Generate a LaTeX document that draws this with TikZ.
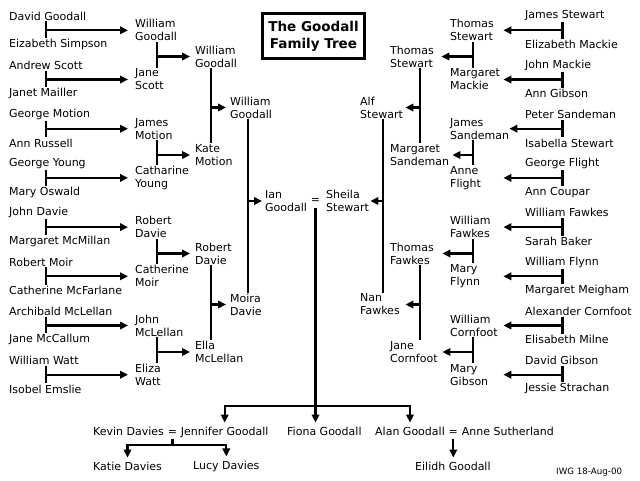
\documentclass[tikz,border=0pt]{standalone}
\usepackage{fontspec}
\setmainfont{DejaVu Sans}
\usetikzlibrary{arrows.meta,positioning}
\tikzset{
    person/.style={
        align=left,
        inner xsep=0pt,
        inner ysep=1pt,
        font=\fontsize{11}{13}\selectfont
    },
    lperson/.style={
        person,
        anchor=west,
        inner xsep=#1
    },
    lperson/.default=5pt,
    rperson/.style={
        person,
        anchor=west,
        text width=#1
    },
    kid/.style={
        inner xsep=0pt,
        inner ysep=4pt,
        font=\fontsize{11}{13}\selectfont
    },
    titleBox/.style={
        draw,
        line width=3pt,
        align=center,
        minimum width=102pt,
        minimum height=45pt,
        font=\fontsize{13.5}{17}\selectfont\bfseries
    },
    famLine/.style={
        line width=2.1pt
    },
    famArrow/.style={
        -{Triangle[length=8pt,width=7.5pt]},
        line width=2.1pt
    }
}
\begin{document}
\begin{tikzpicture}[x=1pt,y=-1pt]
        \fill[white] (0,0) rectangle (640,480);
        \useasboundingbox (0,0) rectangle (640,480);

        \node[titleBox] (title) at (313.5,36) {The Goodall\\Family Tree};

        % Goodall side
        \node[lperson=0pt] (dgoodall) at (9,16) {David Goodall};
        \node[lperson=0pt] (esimpson) at (9,44.5) {Eizabeth Simpson};
        \node[lperson=0pt] (ascott) at (9,65.2) {Andrew Scott};
        \node[lperson=0pt] (jmailler) at (9,93.7) {Janet Mailler};
        \node[lperson=0pt] (gmotion) at (9,114.4) {George Motion};
        \node[lperson=0pt] (arussell) at (9,142.9) {Ann Russell};
        \node[lperson=0pt] (gyoung) at (9,163.6) {George Young};
        \node[lperson=0pt] (moswald) at (9,192.1) {Mary Oswald};
        \node[lperson=0pt] (jdavie) at (9,212.8) {John Davie};
        \node[lperson=0pt] (mmcmillan) at (9,241.3) {Margaret McMillan};
        \node[lperson=0pt] (rmoir) at (9,262) {Robert Moir};
        \node[lperson=0pt] (cmcfarlane) at (9,290.5) {Catherine McFarlane};
        \node[lperson=0pt] (amclellan) at (9,311.2) {Archibald McLellan};
        \node[lperson=0pt] (jmccallum) at (9,339.7) {Jane McCallum};
        \node[lperson=0pt] (wwatt) at (9,360.4) {William Watt};
        \node[lperson=0pt] (iemslie) at (9,388.9) {Isobel Emslie};

        \node[lperson=7pt] (wgoodalla) at (128,30.3) {William\\Goodall};
        \node[lperson=7pt] (jscott) at (128,79.5) {Jane\\Scott};
        \node[lperson=7pt] (jmotion) at (128,128.7) {James\\Motion};
        \node[lperson=7pt] (cyoung) at (128,177.9) {Catharine\\Young};
        \node[lperson=7pt] (rdaviea) at (128,227.1) {Robert\\Davie};
        \node[lperson=7pt] (cmoir) at (128,276.3) {Catherine\\Moir};
        \node[lperson=7pt] (jmclellan) at (128,325.5) {John\\McLellan};
        \node[lperson=7pt] (ewatt) at (128,374.7) {Eliza\\Watt};

        \node[lperson=5pt] (wgoodallb) at (190,56.5) {William\\Goodall};
        \node[lperson=5pt] (kmotion) at (190,155) {Kate\\Motion};
        \node[lperson=5pt] (rdavieb) at (190,253.5) {Robert\\Davie};
        \node[lperson=5pt] (emclellan) at (190,352) {Ella\\McLellan};

        \node[lperson=4pt] (wgoodallc) at (226,107.5) {William\\Goodall};
        \node[lperson=4pt] (mdavie) at (226,304.5) {Moira\\Davie};

        \node[lperson=3pt] (igoodall) at (262,201) {Ian\\Goodall};

        \coordinate (jnwgoodalla) at (46,30.3);
        \coordinate (jnjscott) at (46,79.5);
        \coordinate (jnjmotion) at (46,128.7);
        \coordinate (jncyoung) at (46,177.9);
        \coordinate (jnrdaviea) at (46,227.1);
        \coordinate (jncmoir) at (46,276.3);
        \coordinate (jnjmclellan) at (46,325.5);
        \coordinate (jnewatt) at (46,374.7);
        \coordinate (jnwgoodallb) at (157,56.5);
        \coordinate (jnkmotion) at (157,155);
        \coordinate (jnrdavieb) at (157,253.5);
        \coordinate (jnemclellan) at (157,352);
        \coordinate (jnwgoodallc) at (211,107.5);
        \coordinate (jnmdavie) at (211,304.5);
        \coordinate (jnigoodall) at (248,201);

        \draw[famLine] (dgoodall.south -| jnwgoodalla) -- (esimpson.north -| jnwgoodalla);
        \draw[famArrow] (jnwgoodalla) -- (wgoodalla.west);
        \draw[famLine] (ascott.south -| jnjscott) -- (jmailler.north -| jnjscott);
        \draw[famArrow] (jnjscott) -- (jscott.west);
        \draw[famLine] (gmotion.south -| jnjmotion) -- (arussell.north -| jnjmotion);
        \draw[famArrow] (jnjmotion) -- (jmotion.west);
        \draw[famLine] (gyoung.south -| jncyoung) -- (moswald.north -| jncyoung);
        \draw[famArrow] (jncyoung) -- (cyoung.west);
        \draw[famLine] (jdavie.south -| jnrdaviea) -- (mmcmillan.north -| jnrdaviea);
        \draw[famArrow] (jnrdaviea) -- (rdaviea.west);
        \draw[famLine] (rmoir.south -| jncmoir) -- (cmcfarlane.north -| jncmoir);
        \draw[famArrow] (jncmoir) -- (cmoir.west);
        \draw[famLine] (amclellan.south -| jnjmclellan) -- (jmccallum.north -| jnjmclellan);
        \draw[famArrow] (jnjmclellan) -- (jmclellan.west);
        \draw[famLine] (wwatt.south -| jnewatt) -- (iemslie.north -| jnewatt);
        \draw[famArrow] (jnewatt) -- (ewatt.west);

        \draw[famLine] (wgoodalla.south -| jnwgoodallb) -- (jscott.north -| jnwgoodallb);
        \draw[famArrow] (jnwgoodallb) -- (wgoodallb.west);
        \draw[famLine] (jmotion.south -| jnkmotion) -- (cyoung.north -| jnkmotion);
        \draw[famArrow] (jnkmotion) -- (kmotion.west);
        \draw[famLine] (rdaviea.south -| jnrdavieb) -- (cmoir.north -| jnrdavieb);
        \draw[famArrow] (jnrdavieb) -- (rdavieb.west);
        \draw[famLine] (jmclellan.south -| jnemclellan) -- (ewatt.north -| jnemclellan);
        \draw[famArrow] (jnemclellan) -- (emclellan.west);

        \draw[famLine] (wgoodallb.south -| jnwgoodallc) -- (kmotion.north -| jnwgoodallc);
        \draw[famArrow] (jnwgoodallc) -- (wgoodallc.west);
        \draw[famLine] (rdavieb.south -| jnmdavie) -- (emclellan.north -| jnmdavie);
        \draw[famArrow] (jnmdavie) -- (mdavie.west);

        \draw[famLine] (wgoodallc.south -| jnigoodall) -- (mdavie.north -| jnigoodall);
        \draw[famArrow] (jnigoodall) -- (igoodall.west);

        % Stewart side
        \node[lperson=0pt] (jstewart) at (525,16) {James Stewart};
        \node[lperson=0pt] (emackie) at (525,44.5) {Elizabeth Mackie};
        \node[lperson=0pt] (jmackie) at (525,65.2) {John Mackie};
        \node[lperson=0pt] (agibson) at (525,93.7) {Ann Gibson};
        \node[lperson=0pt] (psandeman) at (525,114.4) {Peter Sandeman};
        \node[lperson=0pt] (istewart) at (525,142.9) {Isabella Stewart};
        \node[lperson=0pt] (gflight) at (525,163.6) {George Flight};
        \node[lperson=0pt] (acoupar) at (525,192.1) {Ann Coupar};
        \node[lperson=0pt] (wfawkesa) at (525,212.8) {William Fawkes};
        \node[lperson=0pt] (sbaker) at (525,241.3) {Sarah Baker};
        \node[lperson=0pt] (wflynn) at (525,262) {William Flynn};
        \node[lperson=0pt] (mmeigham) at (525,290.5) {Margaret Meigham};
        \node[lperson=0pt] (acornfoot) at (525,311.2) {Alexander Cornfoot};
        \node[lperson=0pt] (emilne) at (525,339.7) {Elisabeth Milne};
        \node[lperson=0pt] (dgibson) at (525,360.4) {David Gibson};
        \node[lperson=0pt] (jstrachan) at (525,388.9) {Jessie Strachan};

        \node[rperson=53pt] (tstewarta) at (450,30.3) {Thomas\\Stewart};
        \node[rperson=53pt] (mmackie) at (450,79.5) {Margaret\\Mackie};
        \node[rperson=59pt] (jsandeman) at (450,128.7) {James\\Sandeman};
        \node[rperson=53pt] (aflight) at (450,177.9) {Anne\\Flight};
        \node[rperson=53pt] (wfawkesb) at (450,227.1) {William\\Fawkes};
        \node[rperson=53pt] (mflynn) at (450,276.3) {Mary\\Flynn};
        \node[rperson=53pt] (wcornfoot) at (450,325.5) {William\\Cornfoot};
        \node[rperson=53pt] (mgibson) at (450,374.7) {Mary\\Gibson};

        \node[rperson=51pt] (tstewartb) at (390,56.5) {Thomas\\Stewart};
        \node[rperson=62pt] (msandeman) at (390,155) {Margaret\\Sandeman};
        \node[rperson=52pt] (tfawkes) at (390,253.5) {Thomas\\Fawkes};
        \node[rperson=52pt] (jcornfoot) at (390,352) {Jane\\Cornfoot};

        \node[rperson=45pt] (astewart) at (360,107.5) {Alf\\Stewart};
        \node[rperson=45pt] (nfawkes) at (360,304.5) {Nan\\Fawkes};

        \node[rperson=44pt] (sstewart) at (326,201) {Sheila\\Stewart};

        \coordinate (jntstewarta) at (562.5,30.3);
        \coordinate (jnmmackie) at (562.5,79.5);
        \coordinate (jnjsandeman) at (562.5,128.7);
        \coordinate (jnaflight) at (562.5,177.9);
        \coordinate (jnwfawkesb) at (562.5,227.1);
        \coordinate (jnmflynn) at (562.5,276.3);
        \coordinate (jnwcornfoot) at (562.5,325.5);
        \coordinate (jnmgibson) at (562.5,374.7);
        \coordinate (jntstewartb) at (473,56.5);
        \coordinate (jnmsandeman) at (473,155);
        \coordinate (jntfawkes) at (473,253.5);
        \coordinate (jnjcornfoot) at (473,352);
        \coordinate (jnastewart) at (420,107.5);
        \coordinate (jnnfawkes) at (420,304.5);
        \coordinate (jnsstewart) at (383,201);

        \draw[famLine] (jstewart.south -| jntstewarta) -- (emackie.north -| jntstewarta);
        \draw[famArrow] (jntstewarta) -- (tstewarta.east);
        \draw[famLine] (jmackie.south -| jnmmackie) -- (agibson.north -| jnmmackie);
        \draw[famArrow] (jnmmackie) -- (mmackie.east);
        \draw[famLine] (psandeman.south -| jnjsandeman) -- (istewart.north -| jnjsandeman);
        \draw[famArrow] (jnjsandeman) -- (jsandeman.east);
        \draw[famLine] (gflight.south -| jnaflight) -- (acoupar.north -| jnaflight);
        \draw[famArrow] (jnaflight) -- (aflight.east);
        \draw[famLine] (wfawkesa.south -| jnwfawkesb) -- (sbaker.north -| jnwfawkesb);
        \draw[famArrow] (jnwfawkesb) -- (wfawkesb.east);
        \draw[famLine] (wflynn.south -| jnmflynn) -- (mmeigham.north -| jnmflynn);
        \draw[famArrow] (jnmflynn) -- (mflynn.east);
        \draw[famLine] (acornfoot.south -| jnwcornfoot) -- (emilne.north -| jnwcornfoot);
        \draw[famArrow] (jnwcornfoot) -- (wcornfoot.east);
        \draw[famLine] (dgibson.south -| jnmgibson) -- (jstrachan.north -| jnmgibson);
        \draw[famArrow] (jnmgibson) -- (mgibson.east);

        \draw[famLine] (tstewarta.south -| jntstewartb) -- (mmackie.north -| jntstewartb);
        \draw[famArrow] (jntstewartb) -- (tstewartb.east);
        \draw[famLine] (jsandeman.south -| jnmsandeman) -- (aflight.north -| jnmsandeman);
        \draw[famArrow] (jnmsandeman) -- (msandeman.east);
        \draw[famLine] (wfawkesb.south -| jntfawkes) -- (mflynn.north -| jntfawkes);
        \draw[famArrow] (jntfawkes) -- (tfawkes.east);
        \draw[famLine] (wcornfoot.south -| jnjcornfoot) -- (mgibson.north -| jnjcornfoot);
        \draw[famArrow] (jnjcornfoot) -- (jcornfoot.east);

        \draw[famLine] (tstewartb.south -| jnastewart) -- (msandeman.north -| jnastewart);
        \draw[famArrow] (jnastewart) -- (astewart.east);
        \draw[famLine] (tfawkes.south -| jnnfawkes) -- (jcornfoot.north -| jnnfawkes);
        \draw[famArrow] (jnnfawkes) -- (nfawkes.east);

        \draw[famLine] (astewart.south -| jnsstewart) -- (nfawkes.north -| jnsstewart);
        \draw[famArrow] (jnsstewart) -- (sstewart.east);

        % children and grandchildren
        \node[kid] (wed1) at (315.5,201) {=};

        \node[kid,anchor=west] (kdavies) at (93,431) {Kevin Davies};
        \node[kid,base right=3.5pt of kdavies] (wed2) {=};
        \node[kid,base right=3.5pt of wed2] (jgoodall) {Jennifer Goodall};
        \node[kid,anchor=west] (fgoodall) at (287,431) {Fiona Goodall};
        \node[kid,anchor=west] (agoodall) at (375,431) {Alan Goodall};
        \node[kid,base right=3.5pt of agoodall] (wed3) {=};
        \node[kid,base right=3.5pt of wed3] (asutherland) {Anne Sutherland};

        \node[kid,anchor=west] (katie) at (93,466) {Katie Davies};
        \node[kid,anchor=west] (lucy) at (193,466) {Lucy Davies};
        \node[kid,anchor=west] (eilidh) at (415,466) {Eilidh Goodall};

        \coordinate (kids) at (wed1.south |- 0,406);
        \draw[famLine] (wed1.south) -- (kids);
        \draw[famArrow] (kids) -| (jgoodall.north);
        \draw[famArrow] (kids) -- (kids |- fgoodall.north);
        \draw[famArrow] (kids) -| (agoodall.north);

        \coordinate (jndavies) at (wed2.south |- 0,445);
        \draw[famLine] (wed2.south) -- (jndavies);
        \draw[famArrow] (jndavies) -| (katie.north);
        \draw[famArrow] (jndavies) -| (lucy.north);

        \draw[famArrow] (wed3.south) -- (wed3.south |- eilidh.north);

        \node[anchor=west,inner sep=0pt,font=\fontsize{8.7}{10}\selectfont] (stamp) at (556,472) {IWG 18-Aug-00};
    \end{tikzpicture}
\end{document}
